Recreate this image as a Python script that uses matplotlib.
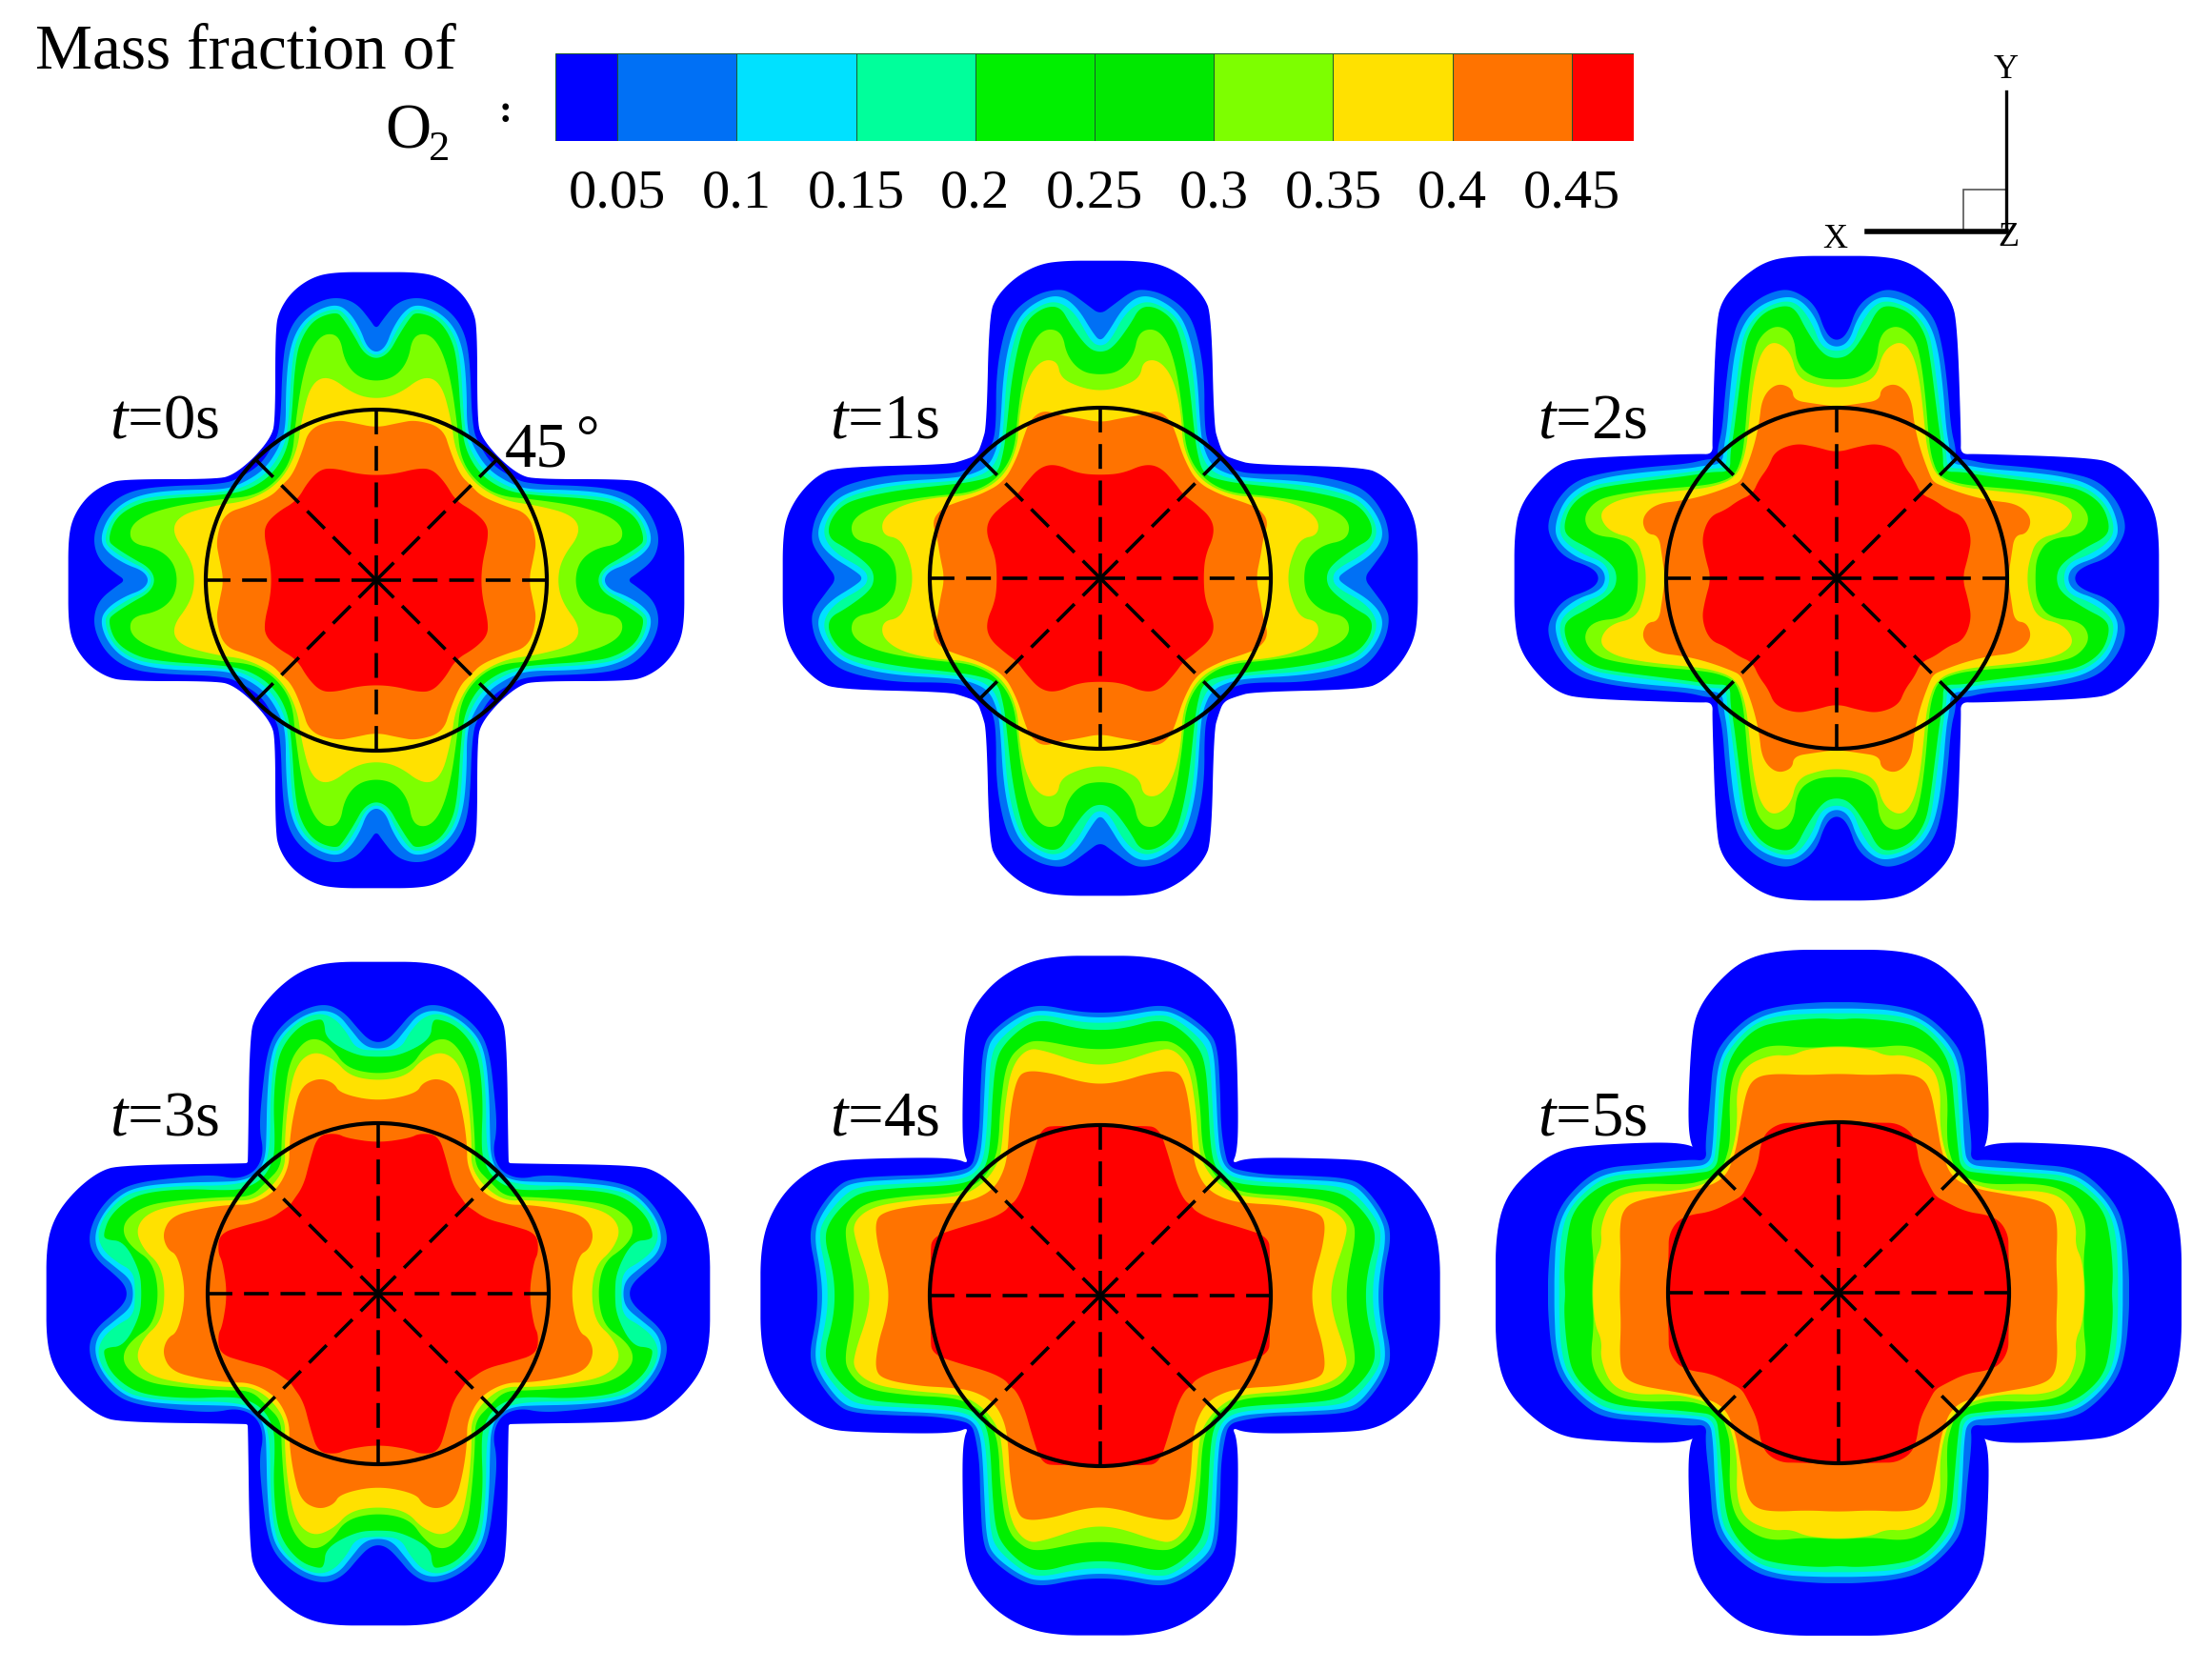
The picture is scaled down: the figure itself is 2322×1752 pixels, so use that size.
#!/usr/bin/env python
# -*- coding: utf-8 -*-
"""O2 mass fraction contours on a cross section, t = 0..5 s."""

import matplotlib

matplotlib.use("Agg")
import matplotlib.pyplot as plt
from matplotlib.patches import Circle, Rectangle

W, H = 2322, 1752

plt.rcParams.update(
    {
        "font.family": ["Liberation Serif", "DejaVu Serif"],
        "mathtext.fontset": "custom",
        "mathtext.rm": "Liberation Serif",
        "mathtext.it": "Liberation Serif:italic",
    }
)

# colour scale
CBAR_EDGES = [0.024, 0.05, 0.1, 0.15, 0.2, 0.25, 0.3, 0.35, 0.4, 0.45, 0.476]
CBAR_TICKS = [0.05, 0.1, 0.15, 0.2, 0.25, 0.3, 0.35, 0.4, 0.45]
CBAR_LABELS = ["0.05", "0.1", "0.15", "0.2", "0.25", "0.3", "0.35", "0.4", "0.45"]
CBAR_COLORS = ["#0000FF", "#0070F5", "#00E1FF", "#00FF9B", "#00F000",
               "#00E800", "#7DFF00", "#FFE100", "#FF7300", "#FF0000"]

# colours of the nested regions: outline, then inside 0.05, 0.1, 0.15, 0.2, 0.3, 0.35, 0.4, 0.45
BAND_COLORS = ["#0000FF", "#0070F5", "#00E1FF", "#00FF9B", "#00F000",
               "#7DFF00", "#FFE100", "#FF7300", "#FF0000"]

# Contour lines, one octant each: from the x axis to the 45 degree line.
# Units are 1/3 pixel from the centre of the panel.
T0 = [
    [(970, 0), (970, 130), (955, 200), (910, 265), (850, 305), (790, 318), (500, 318), (450, 332), (385, 385)],
    [(790, 0), (820, 20), (870, 60), (890, 110), (885, 165), (850, 230), (790, 275), (700, 295), (480, 302), (425, 325), (364, 364)],
    [(715, 0), (735, 30), (790, 50), (845, 85), (870, 125), (850, 190), (800, 245), (720, 275), (600, 285), (480, 285), (420, 305), (350, 350)],
    [(705, 0), (725, 35), (780, 60), (835, 95), (858, 125), (835, 195), (785, 240), (710, 265), (480, 277), (410, 295), (340, 340)],
    [(695, 0), (715, 40), (770, 70), (825, 105), (845, 125), (825, 190), (775, 230), (700, 255), (480, 268), (400, 285), (330, 330)],
    [(625, 0), (640, 60), (690, 100), (770, 115), (778, 165), (730, 205), (630, 235), (490, 255), (385, 265), (312, 312)],
    [(570, 0), (585, 70), (645, 150), (620, 205), (510, 235), (400, 250), (305, 305)],
    [(480, 0), (495, 70), (505, 125), (480, 210), (400, 235), (330, 265), (298, 298)],
    [(330, 0), (335, 60), (352, 130), (350, 175), (310, 215), (250, 250)],
]
T1 = [
    [(1000, 0), (1000, 110), (990, 190), (950, 265), (890, 325), (830, 350), (480, 358), (430, 372), (388, 388)],
    [(830, 0), (860, 40), (905, 100), (910, 140), (895, 200), (850, 265), (790, 300), (650, 328), (480, 328), (420, 340), (372, 372)],
    [(745, 0), (775, 25), (850, 70), (890, 120), (885, 175), (840, 245), (770, 280), (650, 305), (470, 315), (410, 325), (352, 352)],
    [(730, 0), (745, 30), (830, 75), (870, 125), (868, 175), (825, 240), (760, 270), (640, 295), (470, 305), (400, 315), (342, 342)],
    [(710, 0), (725, 40), (800, 95), (855, 125), (855, 175), (815, 230), (750, 255), (620, 280), (470, 295), (395, 305), (325, 325)],
    [(640, 0), (650, 60), (700, 105), (775, 120), (788, 170), (750, 210), (660, 240), (520, 260), (400, 270), (318, 318)],
    [(590, 0), (600, 60), (630, 125), (685, 135), (688, 185), (630, 230), (520, 255), (410, 260), (310, 310)],
    [(490, 0), (505, 70), (513, 125), (530, 180), (500, 220), (450, 240), (380, 262), (303, 303)],
    [(325, 0), (330, 70), (360, 140), (350, 190), (300, 235), (262, 262)],
]
T2 = [
    [(1015, 0), (1015, 130), (1000, 220), (950, 295), (880, 360), (800, 380), (440, 392), (390, 390)],
    [(745, 0), (770, 35), (860, 65), (905, 130), (910, 180), (880, 250), (820, 310), (720, 335), (600, 350), (470, 360), (410, 375), (375, 375)],
    [(725, 0), (745, 40), (820, 65), (875, 110), (890, 160), (860, 245), (800, 295), (720, 320), (600, 335), (470, 345), (415, 355), (360, 360)],
    [(712, 0), (730, 50), (800, 75), (865, 120), (875, 170), (845, 240), (780, 290), (700, 305), (580, 320), (460, 335), (400, 345), (348, 348)],
    [(690, 0), (705, 45), (780, 95), (850, 130), (860, 170), (835, 235), (770, 280), (690, 295), (570, 310), (450, 325), (395, 335), (335, 335)],
    [(625, 0), (630, 70), (670, 125), (770, 135), (800, 190), (760, 245), (690, 265), (570, 280), (440, 290), (375, 300), (322, 322)],
    [(600, 0), (605, 50), (630, 125), (715, 145), (750, 200), (710, 240), (620, 262), (500, 275), (400, 285), (315, 315)],
    [(540, 0), (550, 70), (560, 135), (600, 140), (615, 190), (570, 235), (480, 245), (400, 265), (320, 295), (305, 305)],
    [(395, 0), (415, 70), (425, 130), (400, 195), (350, 215), (310, 245), (265, 265)],
]
T3 = [
    [(1045, 0), (1045, 150), (1020, 240), (960, 320), (880, 385), (810, 405), (420, 410), (412, 412)],
    [(790, 0), (800, 30), (830, 60), (890, 110), (915, 170), (890, 250), (830, 320), (760, 350), (640, 365), (520, 375), (445, 360), (385, 385)],
    [(770, 0), (780, 45), (830, 85), (880, 125), (895, 180), (870, 250), (810, 315), (740, 340), (620, 350), (500, 352), (430, 355), (378, 378)],
    [(765, 0), (770, 70), (825, 100), (870, 140), (885, 190), (860, 250), (800, 310), (730, 330), (610, 340), (490, 340), (420, 350), (370, 370)],
    [(745, 0), (750, 70), (800, 165), (860, 170), (865, 190), (845, 245), (790, 295), (725, 320), (600, 330), (480, 325), (420, 330), (362, 362)],
    [(690, 0), (710, 100), (775, 145), (805, 190), (795, 235), (730, 280), (620, 295), (480, 305), (400, 305), (352, 352)],
    [(670, 0), (685, 90), (740, 140), (765, 205), (720, 260), (600, 285), (470, 295), (400, 292), (335, 335)],
    [(605, 0), (630, 120), (665, 140), (680, 190), (650, 245), (560, 268), (470, 280), (400, 280), (322, 322)],
    [(475, 0), (490, 100), (505, 130), (500, 190), (420, 215), (340, 235), (290, 270), (278, 278)],
]
T4 = [
    [(1070, 0), (1070, 130), (1050, 230), (1000, 320), (930, 385), (860, 420), (780, 430), (540, 435), (450, 430), (415, 415)],
    [(890, 0), (895, 80), (918, 190), (895, 260), (835, 340), (785, 370), (640, 378), (530, 380), (450, 392), (405, 405)],
    [(875, 0), (880, 70), (902, 190), (880, 255), (820, 335), (770, 358), (640, 365), (520, 370), (440, 378), (398, 398)],
    [(858, 0), (862, 70), (888, 190), (868, 245), (805, 320), (755, 345), (630, 352), (510, 358), (430, 368), (390, 390)],
    [(835, 0), (842, 80), (870, 180), (850, 240), (790, 305), (735, 330), (620, 340), (500, 345), (420, 355), (380, 380)],
    [(775, 0), (780, 70), (805, 190), (795, 240), (740, 295), (600, 315), (480, 320), (420, 335), (368, 368)],
    [(725, 0), (735, 70), (770, 170), (780, 230), (720, 280), (600, 300), (470, 310), (420, 320), (360, 360)],
    [(665, 0), (675, 70), (700, 150), (710, 235), (680, 265), (570, 285), (470, 290), (400, 300), (335, 335)],
    [(530, 0), (535, 130), (530, 185), (440, 215), (350, 240), (300, 265), (285, 285)],
]
T5 = [
    [(1080, 0), (1080, 180), (1050, 300), (970, 390), (880, 450), (780, 465), (550, 475), (460, 465), (440, 440)],
    [(915, 0), (915, 60), (905, 180), (880, 270), (810, 350), (740, 395), (600, 405), (470, 420), (415, 415)],
    [(895, 0), (895, 60), (890, 180), (860, 270), (790, 345), (720, 380), (600, 390), (470, 395), (405, 405)],
    [(880, 0), (880, 60), (875, 180), (850, 265), (780, 335), (720, 370), (600, 378), (470, 385), (395, 395)],
    [(860, 0), (865, 60), (855, 180), (835, 260), (770, 325), (700, 355), (580, 365), (460, 375), (385, 385)],
    [(778, 0), (770, 100), (782, 205), (760, 270), (710, 325), (620, 345), (480, 340), (420, 355), (375, 375)],
    [(775, 0), (768, 100), (745, 150), (750, 210), (715, 295), (640, 322), (530, 318), (440, 335), (368, 368)],
    [(690, 0), (685, 100), (690, 200), (680, 260), (640, 290), (530, 310), (440, 325), (358, 358)],
    [(540, 0), (535, 130), (535, 180), (510, 225), (470, 245), (400, 255), (330, 290), (305, 305)],
]
PANELS = [T0, T1, T2, T3, T4, T5]
TIME_LABELS = ["0", "1", "2", "3", "4", "5"]
CENTERS = [(395, 609), (1155, 607), (1928, 607), (397, 1358), (1155, 1360), (1930, 1357)]
LABEL_POS = [(115, 460), (871, 460), (1614, 460), (115, 1192), (871, 1192), (1614, 1192)]
CIRCLE_R = 537


def fx(x):
    return x / W


def fy(y):
    return 1 - y / H


def closed_outline(octant):
    # mirror the octant over the diagonal, then over both axes
    quad = list(octant) + [(y, x) for x, y in reversed(octant[:-1])]
    pts = list(quad)
    pts += [(-x, y) for x, y in reversed(quad[:-1])]
    pts += [(-x, -y) for x, y in quad[1:]]
    pts += [(x, -y) for x, y in reversed(quad[1:-1])]
    return pts


def smooth(pts, n=3):
    # corner cutting so the polygons read as contour lines
    for _ in range(n):
        out = []
        for i, (x0, y0) in enumerate(pts):
            x1, y1 = pts[(i + 1) % len(pts)]
            out.append((0.75 * x0 + 0.25 * x1, 0.75 * y0 + 0.25 * y1))
            out.append((0.25 * x0 + 0.75 * x1, 0.25 * y0 + 0.75 * y1))
        pts = out
    return pts


def draw_panel(fig, center, bands):
    half = 400
    cx, cy = center
    ax = fig.add_axes([fx(cx - half), fy(cy + half), 2 * half / W, 2 * half / H])
    ax.set_xlim(-3 * half, 3 * half)
    ax.set_ylim(-3 * half, 3 * half)
    ax.axis("off")
    for octant, color in zip(bands, BAND_COLORS):
        xs, ys = zip(*smooth(closed_outline(octant)))
        ax.fill(xs, ys, color=color, lw=0)
    diag = CIRCLE_R * 0.7071
    for dx, dy in [(1, 0), (1, 1), (0, 1), (-1, 1), (-1, 0), (-1, -1), (0, -1), (1, -1)]:
        r = diag if dx and dy else CIRCLE_R
        ax.plot([0, dx * r], [0, dy * r], color="black", lw=2.6, ls=(0, (7.2, 3.4)), dash_capstyle="butt")
    ax.add_patch(Circle((0, 0), CIRCLE_R, fill=False, ec="black", lw=3.0))


def draw_colorbar(fig):
    ax = fig.add_axes([fx(583), fy(148), (1715 - 583) / W, 92 / H])
    ax.bar(CBAR_EDGES[:-1], 1, width=[b - a for a, b in zip(CBAR_EDGES, CBAR_EDGES[1:])],
           align="edge", color=CBAR_COLORS, edgecolor="#1c5a2c", linewidth=0.7)
    ax.set_xlim(CBAR_EDGES[0], CBAR_EDGES[-1])
    ax.set_ylim(0, 1)
    ax.set_yticks([])
    ax.set_xticks(CBAR_TICKS, CBAR_LABELS, fontsize=42)
    ax.tick_params(axis="x", length=0, pad=21)
    for spine in ax.spines.values():
        spine.set_visible(False)


def draw_triad(fig):
    ax = fig.add_axes([0, 0, 1, 1])
    ax.set_xlim(0, W)
    ax.set_ylim(H, 0)
    ax.axis("off")
    ax.patch.set_alpha(0)
    ax.plot([2106, 2106], [96, 243], color="black", lw=2.4)
    ax.plot([1960, 2106], [243, 243], color="black", lw=4.0)
    ax.add_patch(Rectangle((2061, 199), 45, 44, fill=False, ec="#555555", lw=1.2))
    ax.text(2106, 74, "Y", fontsize=26, ha="center", va="center")
    ax.text(1926, 251, "X", fontsize=26, ha="center", va="center")
    ax.text(2108, 249, "Z", fontsize=26, ha="center", va="center")


def main():
    fig = plt.figure(figsize=(W / 100, H / 100), dpi=100, facecolor="white")
    for center, bands in zip(CENTERS, PANELS):
        draw_panel(fig, center, bands)
    draw_colorbar(fig)
    draw_triad(fig)

    fig.text(fx(37), fy(72), "Mass fraction of", fontsize=48.5, ha="left", va="baseline")
    fig.text(fx(404), fy(155), "O", fontsize=48, ha="left", va="baseline")
    fig.text(fx(450), fy(168), "2", fontsize=32, ha="left", va="baseline")
    fig.text(fx(531), fy(128), ":", fontsize=30, fontweight="bold", ha="center", va="baseline")
    for pos, t in zip(LABEL_POS, TIME_LABELS):
        fig.text(fx(pos[0]), fy(pos[1]), r"$\mathit{t}$=" + t + "s", fontsize=48, ha="left", va="baseline")
    fig.text(fx(530), fy(490), "45", fontsize=48, ha="left", va="baseline")
    fig.text(fx(604), fy(478), "\u00b0", fontsize=44, ha="left", va="baseline")

    fig.savefig("out.png", dpi=100, facecolor="white")


if __name__ == "__main__":
    main()
